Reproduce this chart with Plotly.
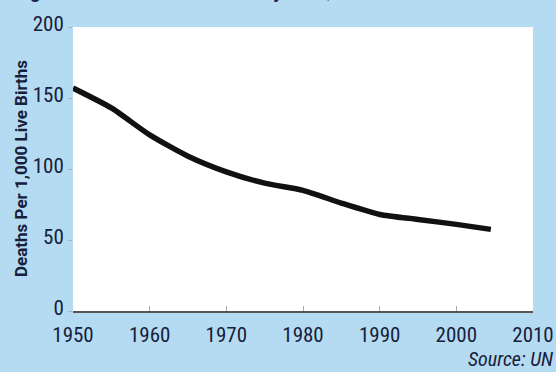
import plotly.graph_objects as go

# Data
years = [1950, 1955, 1960, 1965, 1970, 1975, 1980, 1985, 1990, 1995, 2000, 2004.5]
deaths_per_1000 = [157, 143, 124, 109, 98, 90, 85, 76, 68, 64.5, 61, 57.5]

x_ticks = [1950, 1960, 1970, 1980, 1990, 2000, 2010]
y_ticks = [0, 50, 100, 150, 200]

BG = "#b5dbf2"
TXT = "#16203a"
FONT = "Roboto Condensed, DejaVu Sans Condensed, Liberation Sans Narrow, sans-serif"
FONT_T = "Roboto, DejaVu Sans, sans-serif"

W, H = 556, 372
L, R, T, B = 73, 23, 27, 61
PW = W - L - R
PH = H - T - B

fig = go.Figure()
fig.add_trace(go.Scatter(
    x=years, y=deaths_per_1000, mode="lines",
    line=dict(color="#111111", width=5.5, shape="spline", smoothing=0.6),
    hoverinfo="skip", showlegend=False,
))

fig.update_layout(
    width=W, height=H,
    margin=dict(l=L, r=R, t=T, b=B, autoexpand=False),
    paper_bgcolor=BG, plot_bgcolor="white",
    font=dict(family=FONT, color=TXT, size=21),
    xaxis=dict(
        range=[1950, 2010], tickvals=x_ticks, showgrid=False, zeroline=False,
        ticks="inside", ticklen=5, tickcolor="#aaaaaa", tickwidth=1,
        showline=True, linecolor="#555555", linewidth=1.5,
        tickfont=dict(family=FONT, size=21, color=TXT),
        ticklabelstandoff=4,
        fixedrange=True,
    ),
    yaxis=dict(
        range=[0, 200], tickvals=y_ticks, showgrid=False, zeroline=False,
        ticks="outside", ticklen=4, tickcolor="#b0b0b0", tickwidth=1,
        showline=False,
        tickfont=dict(family=FONT, size=21, color=TXT),
        ticklabelshift=-3,
        fixedrange=True,
    ),
    annotations=[
        dict(
            text="<b>Deaths Per 1,000 Live Births</b>", textangle=-90,
            xref="paper", yref="paper",
            x=(21 - L) / PW, y=(H - B - 169) / PH,
            xanchor="center", yanchor="middle", showarrow=False,
            font=dict(family=FONT_T, size=17, color=TXT),
        ),
        dict(
            text="<i>Source: UN</i>",
            xref="paper", yref="paper",
            x=(W - 1 - L) / PW, y=(H - B - 359) / PH,
            xanchor="right", yanchor="middle", showarrow=False,
            font=dict(family=FONT, size=20, color=TXT),
        ),
        dict(
            text="<b><i>Figure 2. World Infant Mortality Rate, 1950–2005</i></b>",
            xref="paper", yref="paper",
            x=(14 - L) / PW, y=1 + (T - 4) / PH,
            xanchor="left", yanchor="bottom", showarrow=False,
            font=dict(family=FONT, size=22, color="#1b2a55"),
        ),
    ],
)

fig.write_html(
    "out.html",
    config={"displayModeBar": False, "staticPlot": True},
    post_script="document.body.style.margin='0';document.body.style.overflow='hidden';",
)
